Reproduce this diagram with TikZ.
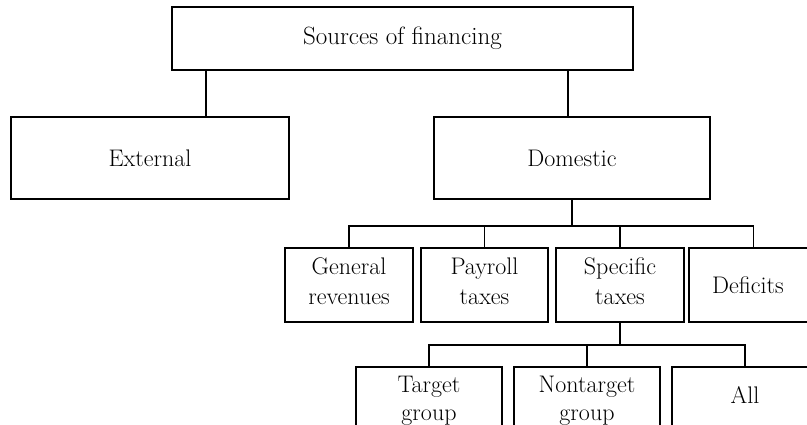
\documentclass[tikz,border=0pt]{standalone}
\newcommand\dpt[1]{\rule[-#1]{0pt}{0pt}}
\begin{document}
\begin{tikzpicture}[x=1pt,y=-1pt,
  box/.style={draw,line width=1.1pt,rectangle,inner sep=0pt,align=center,font=\fontsize{24}{30}\selectfont},
  conn/.style={line width=1.1pt}]
\useasboundingbox (0,0) rectangle (807,425);
\clip (0,0) rectangle (807,425);
% level 0
\node[box,minimum width=461pt,minimum height=63pt,font=\fontsize{25}{30}\selectfont] (top) at (402.5,38.5) {Sources of financing};
% level 1
\node[box,minimum width=278pt,minimum height=82pt] (ext) at (150,158) {External};
\node[box,minimum width=276pt,minimum height=82pt] (dom) at (572,158) {Domestic};
% level 2
\node[box,minimum width=128pt,minimum height=74pt] (gen) at (349,285) {General\\revenues\dpt{7pt}};
\node[box,minimum width=127pt,minimum height=74pt] (pay) at (484.5,285) {Payroll\\taxes\dpt{7pt}};
\node[box,minimum width=128pt,minimum height=74pt] (spe) at (620,285) {Specific\\taxes\dpt{7pt}};
\node[box,minimum width=129pt,minimum height=74pt] (def) at (753.5,285) {};
\node[font=\fontsize{24}{30}\selectfont,inner sep=0pt] (deftext) at (748,285) {Deficits};
% level 3
\node[box,minimum width=146pt,minimum height=80pt,font=\fontsize{24}{28}\selectfont] (tar) at (429,407) {Target\\group\dpt{17pt}};
\node[box,minimum width=146pt,minimum height=80pt,font=\fontsize{24}{28}\selectfont] (non) at (587,407) {Nontarget\\group\dpt{17pt}};
\node[box,minimum width=146pt,minimum height=80pt] (all) at (745,407) {All\dpt{24pt}};
% connectors level 0 -> 1
\coordinate (xe) at (206,0);
\coordinate (xd) at (568,0);
\draw[conn] (top.south -| xe) -- (ext.north -| xe);
\draw[conn] (top.south -| xd) -- (dom.north -| xd);
% connectors level 1 -> 2
\coordinate (b1) at (572,226);
\draw[conn] (dom.south -| b1) -- (b1);
\draw[conn] (gen.north) |- (def.north |- b1) -- (def.north);
\draw[conn] (pay.north) -- (pay.north |- b1);
\draw[conn] (spe.north) -- (spe.north |- b1);
% connectors level 2 -> 3
\coordinate (b2) at (620,345);
\draw[conn] (spe.south) -- (b2);
\draw[conn] (tar.north) |- (all.north |- b2) -- (all.north);
\draw[conn] (non.north) -- (non.north |- b2);
\end{tikzpicture}
\end{document}
